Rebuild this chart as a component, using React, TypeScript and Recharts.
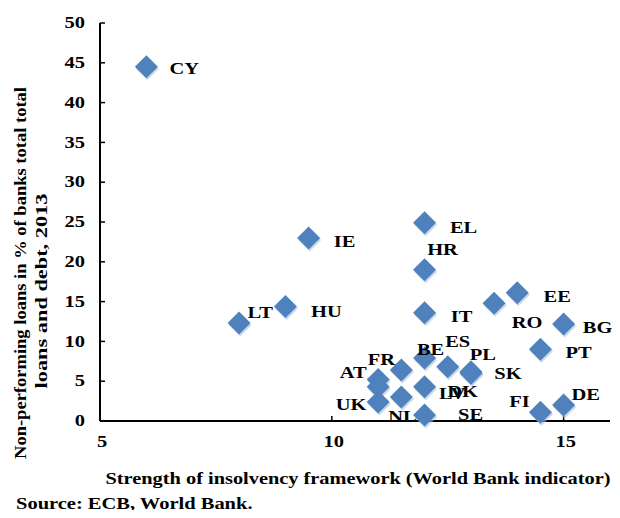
import { ScatterChart, Scatter, XAxis, YAxis, Label } from 'recharts';

// strength of insolvency framework (x) vs NPL ratio 2013 (y)
const countries = ['CY', 'IE', 'EL', 'HR', 'IT', 'LT', 'HU', 'RO', 'EE', 'BG', 'PT', 'BE', 'ES', 'PL', 'SK', 'FR', 'AT', 'LV', 'UK', 'NL', 'DK', 'SE', 'FI', 'DE'];
const strength = [6, 9.5, 12, 12, 12, 8, 9, 13.5, 14, 15, 14.5, 12, 12.5, 13, 13, 11.5, 11, 11, 11, 11.5, 12, 12, 14.5, 15];
const npl = [44.5, 23.0, 24.9, 19.0, 13.6, 12.3, 14.4, 14.8, 16.1, 12.2, 9.0, 7.9, 6.8, 6.2, 6.0, 6.4, 5.2, 4.3, 2.4, 3.0, 4.3, 0.75, 1.1, 2.0];
const xTicks = [5, 10, 15];
const yTicks = [0, 5, 10, 15, 20, 25, 30, 35, 40, 45, 50];

const points = countries.map((c, i) => ({ name: c, x: strength[i], y: npl[i] }));

// where each label sits relative to its marker (px)
const labelPos: Record<string, [number, number]> = {
  CY: [38, 2], IE: [36, 4], EL: [39, 5], HR: [18, -20], IT: [37, 4], LT: [21, -10],
  HU: [41, 5], RO: [33, 20], EE: [40, 4], BG: [34, 4], PT: [38, 3], BE: [6, -8],
  ES: [10, -25], PL: [12, -17], SK: [37, 1], FR: [-20, -10], AT: [-25, -7],
  LV: [74, 7], UK: [-27, 3], NL: [1, 20], DK: [38, 5], SE: [46, 0], FI: [-21, -10], DE: [22, -10],
};

const font = '"Liberation Serif", "Times New Roman", serif';
const blue = '#4F81BD';
const stretch = 1.28; // the source image is widened

const Wide = ({ x, y, anchor, size = 16, children }: any) => (
  <text transform={`translate(${x},${y}) scale(${stretch},1)`} textAnchor={anchor} dominantBaseline="central"
    fontFamily={font} fontWeight="bold" fontSize={size} fill="#000">
    {children}
  </text>
);

const Diamond = (props: any) => {
  const { cx, cy } = props;
  const r = 11.5;
  return (
    <g>
      <polygon points={`${cx + 1},${cy - r + 2} ${cx + r + 1},${cy + 2} ${cx + 1},${cy + r + 2} ${cx - r + 1},${cy + 2}`} fill="#A9BEDC" opacity={0.6} />
      <polygon points={`${cx},${cy - r} ${cx + r},${cy} ${cx},${cy + r} ${cx - r},${cy}`} fill={blue} />
    </g>
  );
};

const CountryLabel = (props: any) => {
  const { cx, cy, payload } = props;
  const [dx, dy] = labelPos[payload.name] || [38, 2];
  return <Wide x={cx + dx} y={cy + dy} anchor="middle">{payload.name}</Wide>;
};

const YTick = (props: any) => {
  const { x, y, payload } = props;
  return <Wide x={x + 2} y={y} anchor="end">{payload.value}</Wide>;
};

const XTick = (props: any) => {
  const { x, y, payload } = props;
  return <Wide x={x + 2} y={y + 8} anchor="middle">{payload.value}</Wide>;
};

const YTitle = () => (
  <g fontFamily={font} fontWeight="bold" fontSize={17} fill="#000" textAnchor="middle">
    <text x={12} y={265} dominantBaseline="central" transform="rotate(-90, 12, 265)"
      textLength={372} lengthAdjust="spacingAndGlyphs">
      Non-performing loans in % of banks total total
    </text>
    <text x={33} y={283} dominantBaseline="central" transform="rotate(-90, 33, 283)"
      textLength={195} lengthAdjust="spacingAndGlyphs">
      loans and  debt, 2013
    </text>
  </g>
);

const XTitle = () => (
  <text x={350} y={470} textAnchor="middle" dominantBaseline="central" fontFamily={font} fontWeight="bold"
    fontSize={17} fill="#000" textLength={505} lengthAdjust="spacingAndGlyphs">
    Strength of insolvency framework (World Bank indicator)
  </text>
);

const App = () => {
  return (
    <div style={{ position: 'relative', width: 612, height: 502 }}>
      <ScatterChart width={612} height={502} margin={{ top: 15, right: 10, left: 0, bottom: 0 }}
        style={{ overflow: 'visible' }}>
        <XAxis type="number" dataKey="x" domain={[5, 16]} ticks={xTicks} height={89}
          axisLine={{ stroke: '#000', strokeWidth: 2 }} tickLine={{ stroke: '#000', strokeWidth: 1.5 }}
          tickSize={-5} tickMargin={18} tick={<XTick />}>
          <Label content={<XTitle />} />
        </XAxis>
        <YAxis type="number" dataKey="y" domain={[0, 50]} ticks={yTicks} width={92}
          axisLine={{ stroke: '#000', strokeWidth: 2 }} tickLine={{ stroke: '#000', strokeWidth: 1.5 }}
          tickSize={-5} tickMargin={22} tick={<YTick />}>
          <Label content={<YTitle />} />
        </YAxis>
        <Scatter data={points} shape={<Diamond />} isAnimationActive={false} />
        <Scatter data={points} shape={<CountryLabel />} isAnimationActive={false} />
      </ScatterChart>
      <div style={{ position: 'absolute', left: 8, top: 487, fontFamily: font, fontSize: 16, lineHeight: '18px', fontWeight: 'bold', color: '#000', whiteSpace: 'nowrap', transform: `scaleX(${stretch})`, transformOrigin: 'left center' }}>
        Source: ECB, World Bank.
      </div>
    </div>
  );
};

export default App;
